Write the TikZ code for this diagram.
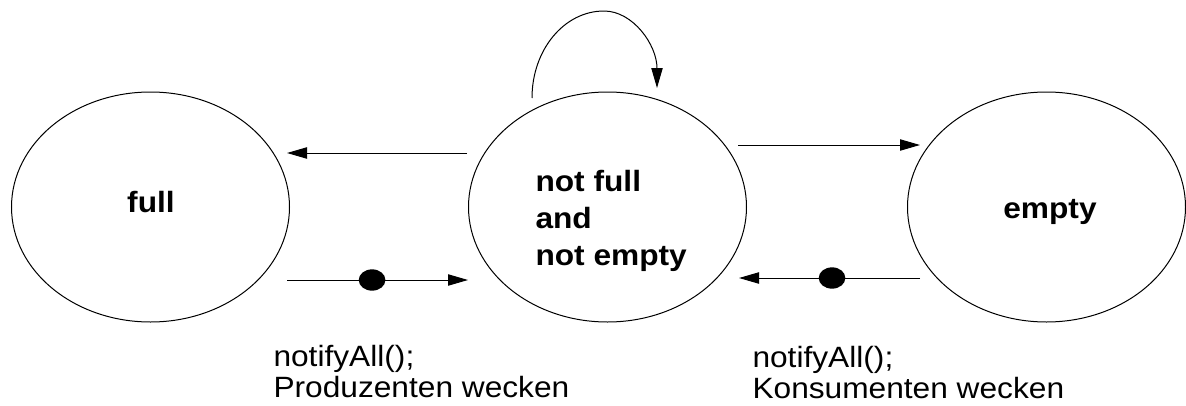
\documentclass[tikz,border=0pt]{standalone}
\usepackage{fontspec}
\setmainfont{Liberation Sans}[FakeStretch=1.08]
\usetikzlibrary{arrows.meta,shapes.geometric}

\begin{document}
\begin{tikzpicture}[%show background rectangle,
    x=0.75pt, y=0.75pt,
    line width=0.75pt,
    >={Triangle[length=15pt,width=8.5pt]} % Pfeilspitzen
    ]
        \useasboundingbox (0,0) rectangle (1186,405);

        \tikzset{
            Zustand/.style={draw,ellipse,minimum width=208.5pt,minimum height=172.5pt,inner sep=0pt}, % Zustaende
            ZText/.style={font=\fontsize{22pt}{27.4pt}\selectfont\bfseries,align=left,inner sep=0pt},
            Notiz/.style={font=\fontsize{22pt}{23.25pt}\selectfont,align=left,inner sep=0pt,anchor=base west},
            Pfeil/.style={->},
            Punkt/.style={ellipse,fill=black,minimum width=20pt,minimum height=16pt,inner sep=0pt}
        }

        % Zustaende
        \node[Zustand] (full)  at (150.5,198) {};
        \node[Zustand] (mid)   at (607.5,198) {};
        \node[Zustand] (empty) at (1046.5,198) {};

        \node[ZText,anchor=base]      (tfull)  at (151,193) {full};
        \node[ZText,anchor=base west] (tmid)   at (535,140) {not full\\and\\not empty};
        \node[ZText,anchor=base]      (tempty) at (1050,187) {empty};

        % Endpunkte
        \coordinate (ml) at (467,252);  \coordinate (fr) at (287,252);
        \coordinate (fu) at (287,125);  \coordinate (mu) at (468,125);
        \coordinate (mr) at (738,260);  \coordinate (el) at (920,260);
        \coordinate (eu) at (920,127);  \coordinate (mv) at (739,127);
        \coordinate (s1) at (532,307);  \coordinate (s2) at (604,394);
        \coordinate (s3) at (657,317);

        % Uebergaenge
        \draw[Pfeil] (ml) -- (fr);
        \draw[Pfeil] (fu) -- node[Punkt,pos=0.47] (p1) {} (mu);
        \draw[Pfeil] (mr) -- (el);
        \draw[Pfeil] (eu) -- node[Punkt,pos=0.486] (p2) {} (mv);
        \draw[Pfeil] (s1) .. controls (532,355) and (564,394) .. (s2)
                          .. controls (633,394) and (657,360) .. (s3);

        % Aktionen
        \node[Notiz] (n1) at (273,8) {notifyAll();\\Produzenten wecken};
        \node[Notiz] (n2) at (752,7) {notifyAll();\\Konsumenten wecken};
    \end{tikzpicture}
\end{document}
